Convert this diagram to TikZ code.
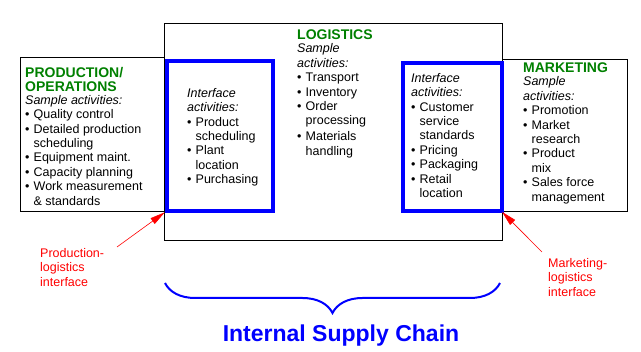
\documentclass[tikz,border=0pt]{standalone}
\usepackage{fontspec}
\setmainfont{Liberation Sans}
\usetikzlibrary{arrows.meta,positioning,calc,decorations.pathreplacing}
\definecolor{ChainGreen}{HTML}{008000}
\definecolor{ChainBlue}{HTML}{0000FF}
\definecolor{ChainRed}{HTML}{FF0000}
\newcommand{\itm}{\makebox[8.5pt][l]{\textbullet}}
\newcommand{\cnt}{\hspace*{8.5pt}}
\newcommand{\areatitle}[1]{\textcolor{ChainGreen}{\bfseries\fontsize{14}{14}\selectfont #1}}

\begin{document}
\begin{tikzpicture}[
  x=1pt,y=-1pt,
  area/.style={draw=black,line width=0.8pt,anchor=north west,inner sep=0pt},
  iface/.style={draw=ChainBlue,line width=3.6pt,anchor=north west,inner sep=0pt},
  txt/.style={anchor=north west,inner sep=0pt,align=left,font=\fontsize{12.5}{14.4}\selectfont},
  note/.style={txt,text=ChainRed},
  pointer/.style={-{Triangle[length=15pt,width=7pt]},line width=0.6pt,draw=ChainRed},
  brace/.style={decorate,decoration={brace,mirror,amplitude=30pt},line width=2pt,draw=ChainBlue}
]
\useasboundingbox (0,0) rectangle (641,352);

% the three functional areas
\node[area,minimum width=144.5pt,minimum height=154pt] (prod) at (19.5,57.5) {};
\node[area,minimum width=338pt,minimum height=216.5pt] (logi) at (163.5,23.5) {};
\node[area,minimum width=125pt,minimum height=151.5pt] (mkt) at (502,59.5) {};

% interface boxes on the borders
\node[iface,minimum width=106pt,minimum height=150pt] (pif) at (165,59) {};
\node[iface,minimum width=99pt,minimum height=148pt] (mif) at (401,61) {};

\node[txt] (prodtxt) at (25,67) {\areatitle{PRODUCTION/}\\[-0.4pt]
  \areatitle{OPERATIONS}\\[-1.4pt]
  \textit{Sample activities:}\\
  \itm Quality control\\
  \itm Detailed production\\
  \cnt scheduling\\
  \itm Equipment maint.\\
  \itm Capacity planning\\
  \itm Work measurement\\
  \cnt \& standards};

\node[txt] (logitxt) at (297,30) {\areatitle{LOGISTICS}\\[-1.4pt]
  \textit{Sample}\\
  \textit{activities:}\\
  \itm Transport\\
  \itm Inventory\\
  \itm Order\\
  \cnt processing\\[1.5pt]
  \itm Materials\\
  \cnt handling};

\node[txt] (mkttxt) at (523,63) {\areatitle{MARKETING}\\[-1.4pt]
  \textit{Sample}\\
  \textit{activities:}\\
  \itm Promotion\\
  \itm Market\\
  \cnt research\\
  \itm Product\\
  \cnt mix\\
  \itm Sales force\\
  \cnt management};

\node[txt] (piftxt) at (187,88) {\textit{Interface}\\
  \textit{activities:}\\
  \itm Product\\
  \cnt scheduling\\
  \itm Plant\\
  \cnt location\\
  \itm Purchasing};

\node[txt] (miftxt) at (411,73) {\textit{Interface}\\
  \textit{activities:}\\
  \itm Customer\\
  \cnt service\\
  \cnt standards\\
  \itm Pricing\\
  \itm Packaging\\
  \itm Retail\\
  \cnt location};

% red call-outs
\node[note] (pnote) at (40,248) {Production-\\logistics\\interface};
\node[note] (mnote) at (548,258) {Marketing-\\logistics\\interface};
\coordinate (ptail) at (117,247);
\coordinate (mtail) at (542,252);
\draw[pointer] (ptail) -- (prod.south east);
\draw[pointer] (mtail) -- (mkt.south west);

% brace under the logistics area
\coordinate (bl) at (165,283);
\coordinate (br) at (500,283);
\draw[brace] (bl) -- (br);
\node[font=\bfseries\fontsize{23}{23}\selectfont,text=ChainBlue] (isc) at (341,336) {Internal Supply Chain};
\end{tikzpicture}
\end{document}
